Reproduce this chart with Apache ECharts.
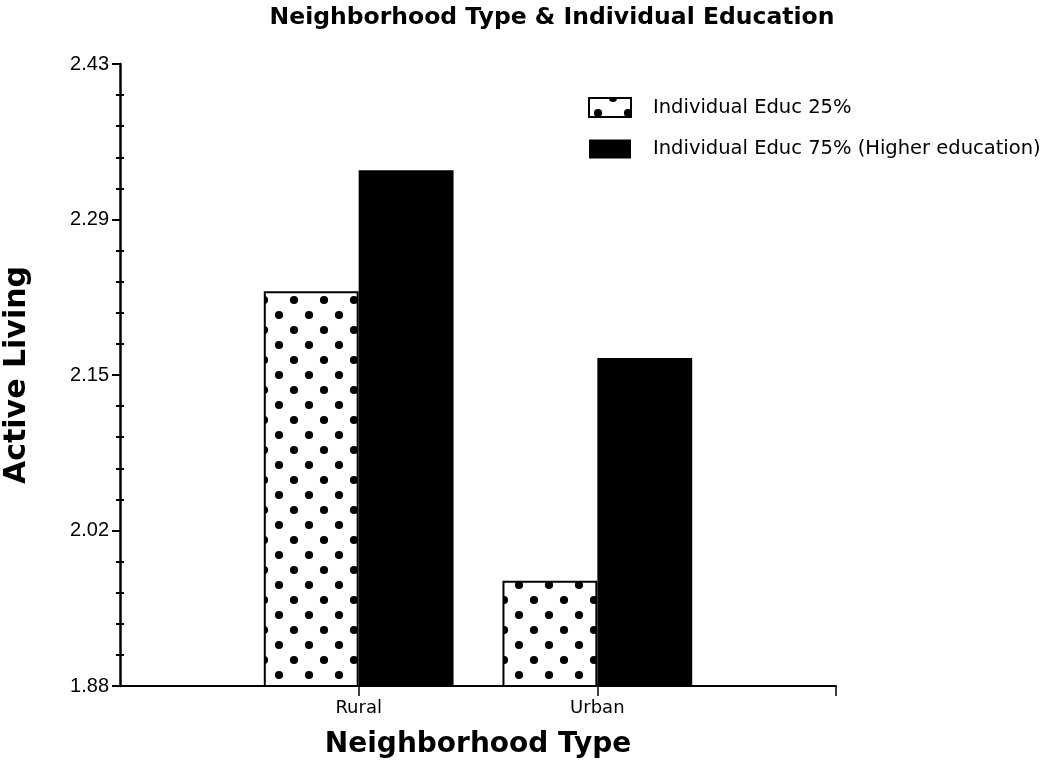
<!DOCTYPE html>
<html>
<head>
<meta charset="utf-8">
<script src="https://cdn.jsdelivr.net/npm/echarts@6/dist/echarts.min.js"></script>
<style>
html,body{margin:0;padding:0;background:#fff;}
#chart{width:1050px;height:769px;}
</style>
</head>
<body>
<div id="chart"></div>
<script>
// ---- data ----
const categories = ['Rural', 'Urban'];
const seriesNames = ['Individual Educ 25%', 'Individual Educ 75% (Higher education)'];
const educ25 = [2.229, 1.973];
const educ75 = [2.336, 2.170];
const yTickValues = [1.88, 2.0175, 2.155, 2.2925, 2.43];
const yTickLabels = ['1.88', '2.02', '2.15', '2.29', '2.43'];

// ---- helpers ----
const FONT = '"Liberation Sans", Arial, Helvetica, sans-serif';
const WIDE = '"DejaVu Sans", Verdana, sans-serif';
const axisCats = [''].concat(categories, ['']);
function pad(arr) { return ['-'].concat(arr, ['-']); }

// minor tick positions: 4 between each pair of major ticks
const minorTicks = [];
for (let i = 0; i < yTickValues.length - 1; i++) {
  const a = yTickValues[i], b = yTickValues[i + 1];
  for (let k = 1; k < 5; k++) minorTicks.push(a + (b - a) * k / 5);
}

// dotted pattern
const pc = document.createElement('canvas');
pc.width = 30; pc.height = 30;
const g = pc.getContext('2d');
g.fillStyle = '#fff'; g.fillRect(0, 0, 30, 30);
g.fillStyle = '#000';
[[24, 0], [24, 30], [9, 15]].forEach(function (p) {
  g.beginPath(); g.arc(p[0], p[1], 4.1, 0, Math.PI * 2); g.fill();
});
const dotPattern = { image: pc, repeat: 'repeat' };

const chart = echarts.init(document.getElementById('chart'), null, { renderer: 'canvas' });

const yMin = yTickValues[0], yMax = yTickValues[yTickValues.length - 1];

const option = {
  backgroundColor: '#fff',
  animation: false,
  title: {
    text: 'Neighborhood Type & Individual Education',
    left: 547,
    textAlign: 'center',
    top: 1,
    textStyle: { fontFamily: WIDE, fontSize: 23.5, fontWeight: 'bold', color: '#000' }
  },
  legend: {
    orient: 'vertical',
    left: 583,
    top: 92,
    itemWidth: 42,
    itemHeight: 19,
    itemGap: 21,
    icon: 'rect',
    textStyle: { fontFamily: WIDE, fontSize: 19.5, color: '#000', padding: [0, 0, 0, 17] },
    data: seriesNames
  },
  grid: { left: 120, top: 64, width: 716, height: 622, containLabel: false, outerBoundsMode: 'none' },
  xAxis: {
    type: 'category',
    data: axisCats,
    boundaryGap: false,
    name: 'Neighborhood Type',
    nameLocation: 'middle',
    nameGap: 45,
    nameTextStyle: { fontFamily: WIDE, fontSize: 28, fontWeight: 'bold', color: '#000' },
    axisLine: { show: true, lineStyle: { color: '#000', width: 2 } },
    axisTick: {
      show: true, length: 10, lineStyle: { color: '#000', width: 1.5 },
      interval: function (idx) { return idx !== 0; }
    },
    axisLabel: {
      fontFamily: WIDE, fontSize: 18, color: '#000', margin: 13,
      interval: 0
    },
    splitLine: { show: false }
  },
  yAxis: [
    {
      type: 'value',
      min: yMin, max: yMax,
      name: 'Active Living',
      nameLocation: 'middle',
      nameGap: 88,
      nameTextStyle: { fontFamily: WIDE, fontSize: 30, fontWeight: 'bold', color: '#000' },
      axisLine: { show: true, lineStyle: { color: '#000', width: 2.5 } },
      axisTick: { show: true, length: 8, lineStyle: { color: '#000', width: 2 }, customValues: yTickValues },
      axisLabel: {
        fontFamily: FONT, fontSize: 20, color: '#000', margin: 11,
        customValues: yTickValues,
        formatter: function (v) {
          for (let i = 0; i < yTickValues.length; i++) {
            if (Math.abs(v - yTickValues[i]) < 1e-6) return yTickLabels[i];
          }
          return '';
        }
      },
      splitLine: { show: false }
    },
    {
      type: 'value', min: yMin, max: yMax, position: 'left', offset: 0,
      axisLine: { show: false },
      axisTick: { show: true, length: 4, lineStyle: { color: '#000', width: 2 }, customValues: minorTicks },
      axisLabel: { show: false },
      splitLine: { show: false }
    },
    {
      type: 'value', min: yMin, max: yMax, position: 'left', offset: 0,
      axisLine: { show: false },
      axisTick: { show: true, inside: true, length: 4, lineStyle: { color: '#000', width: 2 }, customValues: minorTicks },
      axisLabel: { show: false },
      splitLine: { show: false }
    }
  ],
  series: [
    {
      name: seriesNames[0],
      type: 'bar',
      data: pad(educ25),
      barGap: '0%',
      barCategoryGap: '20.5%',
      itemStyle: { color: dotPattern, borderColor: '#000', borderWidth: 2 }
    },
    {
      name: seriesNames[1],
      type: 'bar',
      data: pad(educ75),
      barGap: '0%',
      barCategoryGap: '20.5%',
      itemStyle: { color: '#000', borderColor: '#000', borderWidth: 0 }
    }
  ]
};

chart.setOption(option);
</script>
</body>
</html>
